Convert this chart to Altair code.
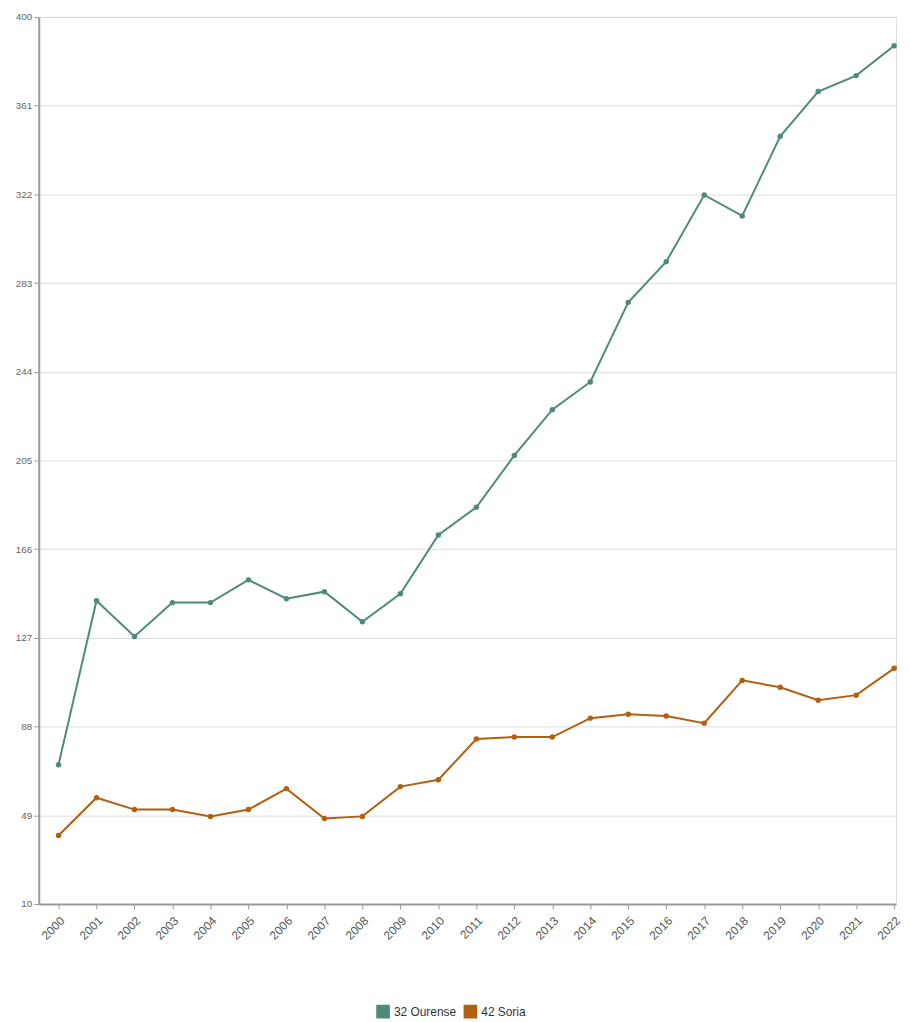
import altair as alt
import pandas as pd

years = list(range(2000, 2023))
ourense = [71.2, 143.3, 127.6, 142.5, 142.5, 152.5, 144.2, 147.3, 134.1, 146.4,
           172.2, 184.4, 207.2, 227.3, 239.5, 274.5, 292.4, 321.7, 312.5, 347.5,
           367.2, 374.2, 387.3]
soria = [40.1, 56.7, 51.5, 51.5, 48.5, 51.5, 60.7, 47.6, 48.5, 61.6,
         64.6, 82.5, 83.4, 83.4, 91.7, 93.4, 92.6, 89.5, 108.3, 105.3,
         99.6, 101.8, 113.6]
series = ["32 Ourense", "42 Soria"]
colors = ["#4e8a7c", "#b0600e"]
y_ticks = [10, 49, 88, 127, 166, 205, 244, 283, 322, 361, 400]

df = pd.concat([
    pd.DataFrame({"year": years, "value": ourense, "serie": series[0]}),
    pd.DataFrame({"year": years, "value": soria, "serie": series[1]}),
])

color = alt.Color(
    "serie:N",
    scale=alt.Scale(domain=series, range=colors),
    legend=alt.Legend(title=None, orient="none", legendX=340, legendY=995,
                      direction="horizontal", symbolType="square",
                      symbolSize=150, labelFontSize=12, labelColor="#333",
                      columnPadding=4),
)

base = alt.Chart(df).encode(
    x=alt.X("year:Q", title=None,
            scale=alt.Scale(domain=[1999.48, 2022.05], nice=False, zero=False),
            axis=alt.Axis(values=years, format="d", labelAngle=-45, grid=False,
                          labelAlign="right", labelBaseline="top", labelPadding=6,
                          labelFontSize=12, labelColor="#555",
                          domainColor="#999", domainWidth=2, tickColor="#999")),
    y=alt.Y("value:Q", title=None,
            scale=alt.Scale(domain=[10, 400], nice=False, zero=False),
            axis=alt.Axis(values=y_ticks, labelFontSize=10, labelColor="#666",
                          gridColor="#ddd", domainColor="#999", domainWidth=2,
                          tickColor="#999", tickSize=5)),
    color=color,
)

chart = (base.mark_line(strokeWidth=2) + base.mark_circle(size=30, opacity=1)).properties(
    width=864, height=894, padding={"left": 7, "top": 0, "right": 0, "bottom": 0}
).configure_view(strokeWidth=0).configure(font="Arial")

chart.save("out.html", embed_options={"renderer": "svg", "actions": False})
